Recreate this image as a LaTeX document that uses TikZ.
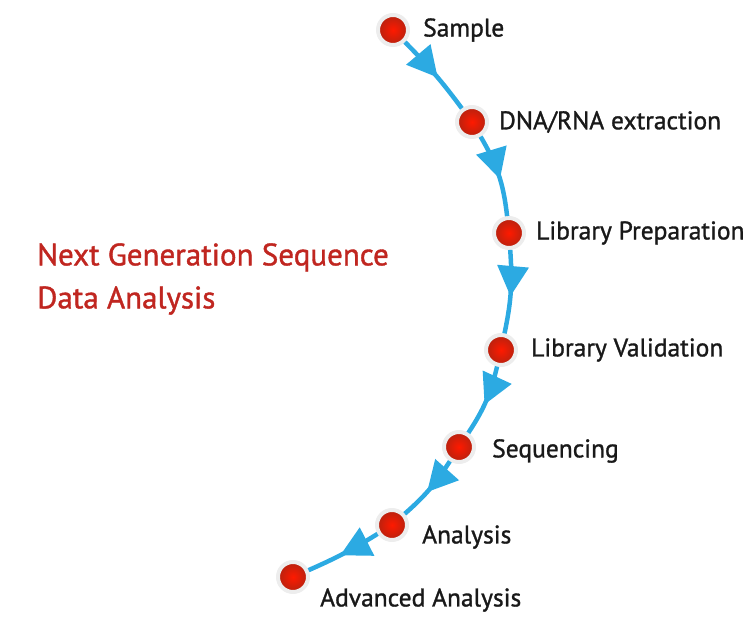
\documentclass[tikz,border=0pt]{standalone}
\usepackage{fontspec}
\setmainfont{PT Sans}
\newfontfamily\lblfont{PT Sans}[FakeBold=1.2]
\usetikzlibrary{arrows.meta,decorations.markings}
\definecolor{flowblue}{RGB}{44,170,226}
\definecolor{dotred}{RGB}{214,40,18}
\definecolor{titlered}{RGB}{192,38,32}

\begin{document}
\begin{tikzpicture}[x=1pt, y=1pt,
    dot/.style={circle, minimum size=30pt, inner sep=0pt, draw=gray!14, line width=4pt,
      inner color=red!80!orange, outer color=dotred!85!black},
    lbl/.style={anchor=west, inner sep=0pt, text=black!90, font=\lblfont\fontsize{25.5}{28}\selectfont},
    flow/.style={draw=flowblue, line width=4.5pt, postaction={decorate},
      decoration={markings, mark=at position 0.55 with
        {\arrow[flowblue]{Triangle[length=30pt, width=32pt, line width=0pt]}}}}]
    % Bildbereich
    \useasboundingbox (0,0) rectangle (755,617);
    % Titel
    \node[anchor=west, inner sep=0pt, align=left, text=titlered,
      font=\lblfont\fontsize{31}{43}\selectfont] (title) at (37,338)
      {Next Generation Sequence\\Data Analysis};
    % Stationen: Name/x/y/Text-x/Text-y/Text
    \foreach \n/\x/\y/\lx/\ly/\t in {smp/393/587/423/587/Sample,
        ext/472/495/499/495/{DNA/RNA extraction},
        prep/509/384/536/384/Library Preparation,
        val/501/267/531/267/Library Validation,
        seq/459/170/492/166/Sequencing,
        ana/392/92/422/80/Analysis,
        adv/293/40/320/17/Advanced Analysis}
    {
      \node[dot] (\n) at (\x,\y) {};
      \node[lbl] (\n-t) at (\lx,\ly) {\t};
    }
    % Pfeile
    \foreach \a/\b/\bend in {smp/ext/4, ext/prep/12, prep/val/8,
        val/seq/10, seq/ana/8, ana/adv/4}
      \draw[flow] (\a) to[bend left=\bend] (\b);
\end{tikzpicture}
\end{document}
